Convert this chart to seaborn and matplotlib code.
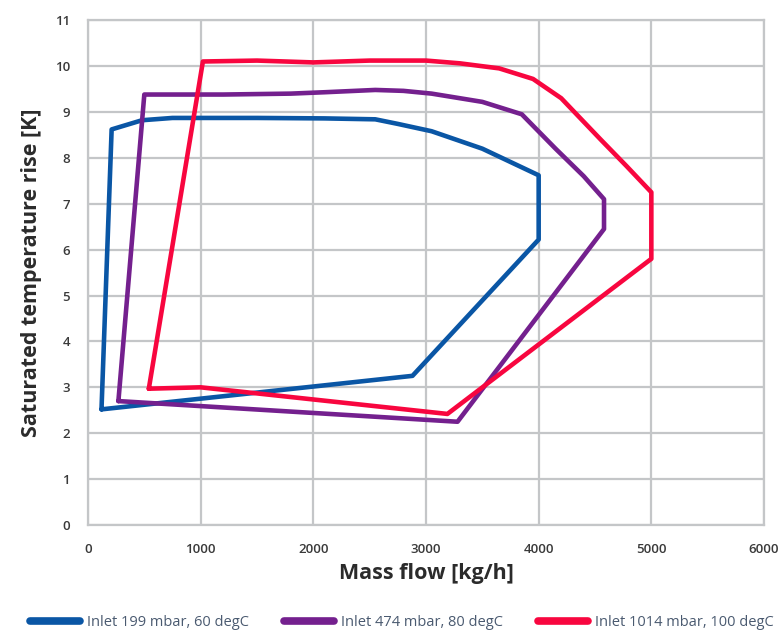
import numpy as np
import pandas as pd
import seaborn as sns
import matplotlib.pyplot as plt
from matplotlib.ticker import MultipleLocator

labels = ["Inlet 199 mbar, 60 degC", "Inlet 474 mbar, 80 degC", "Inlet 1014 mbar, 100 degC"]
colors = ["#0a56a5", "#74208e", "#f8063f"]

# operating envelopes (mass flow kg/h, temperature rise K), traced around the outline
flow_199 = [120, 210, 480, 750, 1500, 2100, 2550, 2750, 3050, 3500, 4000, 4000, 2880]
rise_199 = [2.52, 8.62, 8.82, 8.87, 8.87, 8.86, 8.84, 8.74, 8.58, 8.2, 7.62, 6.22, 3.25]

flow_474 = [270, 500, 1200, 1800, 2100, 2550, 2800, 3050, 3500, 3850, 4150, 4400, 4580, 4580, 3280]
rise_474 = [2.7, 9.38, 9.38, 9.4, 9.43, 9.48, 9.46, 9.4, 9.22, 8.95, 8.2, 7.6, 7.1, 6.45, 2.25]

flow_1014 = [540, 1020, 1500, 2000, 2500, 3000, 3300, 3650, 3950, 4200, 4550, 4780, 5000, 5000, 3190, 1000]
rise_1014 = [2.97, 10.1, 10.12, 10.08, 10.12, 10.12, 10.06, 9.95, 9.72, 9.3, 8.4, 7.82, 7.25, 5.8, 2.42, 3.0]

frames = []
for lab, fl, rs in zip(labels, [flow_199, flow_474, flow_1014], [rise_199, rise_474, rise_1014]):
    # close each envelope back to its first point
    frames.append(pd.DataFrame({"flow": fl + fl[:1], "rise": rs + rs[:1], "case": lab}))
df = pd.concat(frames, ignore_index=True)

sns.set_style("white")
plt.rcParams["font.family"] = ["Open Sans", "DejaVu Sans"]

fig = plt.figure(figsize=(7.82, 6.31), dpi=100)
ax = fig.add_axes([0.1125, 0.168, 0.8645, 0.80])

sns.lineplot(data=df, x="flow", y="rise", hue="case", palette=colors, sort=False,
             estimator=None, linewidth=3.3, ax=ax, legend=False)

grid_c = "#c4c6c8"
ax.set_xlim(0, 6000)
ax.set_ylim(0, 11)
ax.xaxis.set_major_locator(MultipleLocator(1000))
ax.xaxis.set_minor_locator(MultipleLocator(200))
ax.yaxis.set_major_locator(MultipleLocator(1))
ax.yaxis.set_minor_locator(MultipleLocator(0.2))
ax.grid(True, which="major", color=grid_c, linewidth=1.6)
ax.set_axisbelow(True)
for s in ax.spines.values():
    s.set_color(grid_c)
    s.set_linewidth(1.6)
ax.tick_params(which="major", direction="out", length=5, width=1.4, color=grid_c,
               labelsize=9.5, labelcolor="#3a3a3a", pad=8)
ax.tick_params(which="minor", direction="in", length=4, width=0.8, color="#b0b2b4")
for t in ax.get_xticklabels() + ax.get_yticklabels():
    t.set_fontweight("semibold")

ax.set_xlabel("Mass flow [kg/h]", fontsize=15.5, fontweight="bold", color="#2b2b2b", labelpad=5)
ax.set_ylabel("Saturated temperature rise [K]", fontsize=15.5, fontweight="bold", color="#2b2b2b", labelpad=9)

handles = [plt.Line2D([], [], color=c, linewidth=5.5, solid_capstyle="round") for c in colors]
fig.legend(handles, labels, loc="lower left", bbox_to_anchor=(0.022, -0.02), ncol=3, frameon=False,
           fontsize=10.5, labelcolor="#4a5a70", handlelength=3.4, handletextpad=0.5, columnspacing=2.4)

fig.savefig("out.png", dpi=100)
